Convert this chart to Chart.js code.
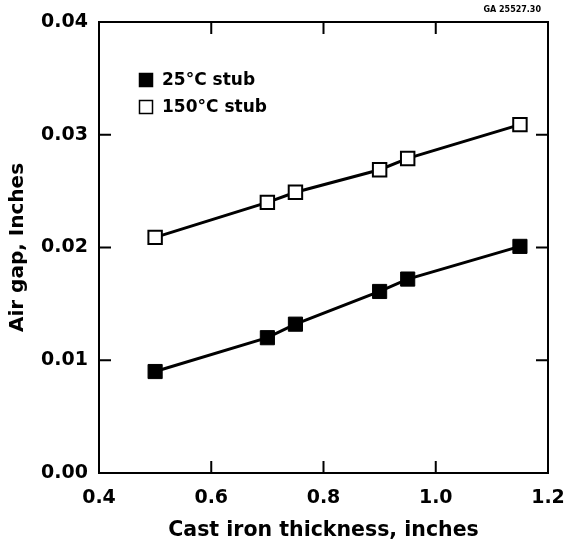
<!DOCTYPE html>
<html>
<head>
<meta charset="utf-8">
<script src="https://cdn.jsdelivr.net/npm/chart.js@4/dist/chart.umd.min.js"></script>
<style>
  html, body { margin: 0; padding: 0; background: #fff; }
</style>
</head>
<body>
<canvas id="chart" width="566" height="546"></canvas>
<script>
// values
const thickness = [0.5, 0.7, 0.75, 0.9, 0.95, 1.15];
const stub25 = [0.0090, 0.0120, 0.0132, 0.0161, 0.0172, 0.0201];
const stub150 = [0.0209, 0.0240, 0.0249, 0.0269, 0.0279, 0.0309];
const seriesNames = ['25°C stub', '150°C stub'];
const xTicks = [0.4, 0.6, 0.8, 1.0, 1.2];
const yTicks = [0.00, 0.01, 0.02, 0.03, 0.04];

const FONT = 'DejaVu Sans';

const toPoints = (ys) => thickness.map((x, i) => ({ x: x, y: ys[i] }));

// frame, inward ticks on all four sides, legend inside plot, tag top right
const framePlugin = {
  id: 'frame',
  afterDraw(chart) {
    const { ctx, chartArea: a, scales: { x, y } } = chart;
    ctx.save();
    ctx.strokeStyle = '#000';
    ctx.lineWidth = 2;
    ctx.strokeRect(a.left, a.top, a.right - a.left, a.bottom - a.top);
    const tl = 12;
    ctx.beginPath();
    xTicks.slice(1, -1).forEach(v => {
      const px = x.getPixelForValue(v);
      ctx.moveTo(px, a.bottom); ctx.lineTo(px, a.bottom - tl);
      ctx.moveTo(px, a.top); ctx.lineTo(px, a.top + tl);
    });
    yTicks.slice(1, -1).forEach(v => {
      const py = y.getPixelForValue(v);
      ctx.moveTo(a.left, py); ctx.lineTo(a.left + tl, py);
      ctx.moveTo(a.right, py); ctx.lineTo(a.right - tl, py);
    });
    ctx.stroke();

    // legend
    ctx.font = 'bold 17px "' + FONT + '"';
    ctx.textBaseline = 'middle';
    ctx.textAlign = 'left';
    chart.data.datasets.forEach((ds, i) => {
      const cy = 80 + i * 27;
      const cx = 146;
      ctx.fillStyle = ds.pointBackgroundColor;
      ctx.fillRect(cx - 6.5, cy - 6.5, 13, 13);
      ctx.lineWidth = 1.5;
      ctx.strokeStyle = '#000';
      ctx.strokeRect(cx - 6.5, cy - 6.5, 13, 13);
      ctx.fillStyle = '#000';
      ctx.fillText(ds.label, 162, cy + 1);
    });

    ctx.font = 'bold 8px "' + FONT + '"';
    ctx.textAlign = 'right';
    ctx.fillStyle = '#000';
    ctx.fillText('GA 25527.30', 541, 10);
    ctx.restore();
  }
};

new Chart(document.getElementById('chart'), {
  type: 'line',
  data: {
    datasets: [
      {
        label: seriesNames[0],
        data: toPoints(stub25),
        borderColor: '#000',
        borderWidth: 3,
        pointStyle: 'rect',
        pointRadius: 10,
        pointBackgroundColor: '#000',
        pointBorderColor: '#000',
        pointBorderWidth: 1
      },
      {
        label: seriesNames[1],
        data: toPoints(stub150),
        borderColor: '#000',
        borderWidth: 3,
        pointStyle: 'rect',
        pointRadius: 9.5,
        pointBackgroundColor: '#fff',
        pointBorderColor: '#000',
        pointBorderWidth: 2
      }
    ]
  },
  options: {
    responsive: false,
    animation: false,
    devicePixelRatio: 1,
    layout: { padding: { top: 22, right: 18, left: 0, bottom: 0 } },
    plugins: { legend: { display: false }, tooltip: { enabled: false } },
    scales: {
      x: {
        type: 'linear',
        min: 0.4,
        max: 1.2,
        afterBuildTicks: (s) => { s.ticks = xTicks.map(v => ({ value: v })); },
        afterFit: (s) => { s.height = 73; s.paddingLeft = 0; s.paddingRight = 0; },
        grid: { display: false, drawTicks: false },
        border: { display: false },
        ticks: {
          color: '#000',
          padding: 14,
          maxRotation: 0,
          font: { family: FONT, size: 19, weight: 'bold' },
          callback: (v) => Number(v).toFixed(1)
        },
        title: {
          display: true,
          text: 'Cast iron thickness, inches',
          color: '#000',
          padding: { top: 0, bottom: 5 },
          font: { family: FONT, size: 20.5, weight: 'bold', lineHeight: 1 }
        }
      },
      y: {
        type: 'linear',
        min: 0,
        max: 0.04,
        afterBuildTicks: (s) => { s.ticks = yTicks.map(v => ({ value: v })); },
        afterFit: (s) => { s.width = 99; s.paddingTop = 0; s.paddingBottom = 0; },
        grid: { display: false, drawTicks: false },
        border: { display: false },
        ticks: {
          color: '#000',
          padding: 11,
          font: { family: FONT, size: 19, weight: 'bold' },
          callback: (v) => Number(v).toFixed(2)
        },
        title: {
          display: true,
          text: 'Air gap, Inches',
          color: '#000',
          padding: { top: 6, bottom: 0 },
          font: { family: FONT, size: 20, weight: 'bold', lineHeight: 1.2 }
        }
      }
    }
  },
  plugins: [framePlugin]
});
</script>
</body>
</html>
